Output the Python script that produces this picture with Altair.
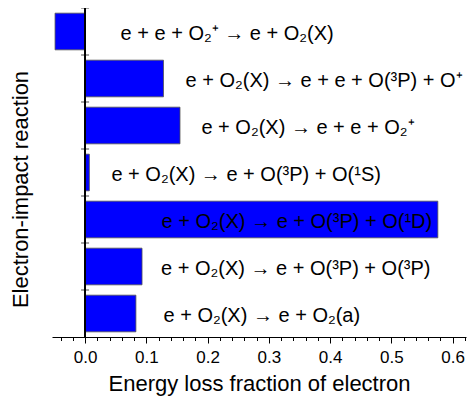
import altair as alt
import pandas as pd

reactions = [
    "e + e + O₂⁺ → e + O₂(X)",
    "e + O₂(X) → e + e + O(³P) + O⁺",
    "e + O₂(X) → e + e + O₂⁺",
    "e + O₂(X) → e + O(³P) + O(¹S)",
    "e + O₂(X) → e + O(³P) + O(¹D)",
    "e + O₂(X) → e + O(³P) + O(³P)",
    "e + O₂(X) → e + O₂(a)",
]
energy_fraction = [-0.049, 0.128, 0.155, 0.007, 0.576, 0.093, 0.083]
label_x = [0.058, 0.164, 0.190, 0.043, 0.125, 0.124, 0.128]
x_tick_values = [round(-0.04 + 0.02 * i, 2) for i in range(34)]

df = pd.DataFrame({"reaction": reactions, "value": energy_fraction, "lx": label_x})

FONT = "Liberation Sans, Arial, sans-serif"
major_test = "abs(datum.value*10 - round(datum.value*10)) < 1e-6"

PLOT_H = 329

x_scale = alt.Scale(domain=[-0.054, 0.622], nice=False, zero=False)
y_scale = alt.Scale(domain=reactions, paddingInner=0.22, paddingOuter=0.11)

x_axis = alt.Axis(
    title="Energy loss fraction of electron",
    values=x_tick_values,
    labelExpr=f"{major_test} ? format(datum.value, '.1f') : ''",
    tickSize={"condition": {"test": major_test, "value": 6}, "value": 3.5},
    grid=False,
    labelOverlap=False,
    labelFlush=False,
    labelFontSize=17,
    labelPadding=6,
    titleFontSize=22,
    titleFontWeight="normal",
    titlePadding=8,
    domainColor="black",
    tickColor="black",
    labelColor="black",
    titleColor="black",
)
y_axis = alt.Axis(
    title="Electron-impact reaction",
    labels=False,
    ticks=False,
    domain=False,
    grid=False,
    titleFontSize=22,
    titleFontWeight="normal",
    titlePadding=20,
    titleY=181,
    titleColor="black",
)

base = alt.Chart(df)
Y = alt.Y("reaction:N", scale=y_scale, axis=y_axis, sort=reactions)

bars = base.mark_bar(color="#0000FF", stroke="#505050", strokeWidth=0.8).encode(
    x=alt.X("value:Q", scale=x_scale, axis=x_axis),
    y=Y,
)

zero_rule = base.mark_rule(color="black", strokeWidth=1).encode(
    x=alt.XDatum(0, type="quantitative", scale=x_scale, axis=x_axis)
)

boundary_ticks = base.mark_tick(
    orient="horizontal", size=8, thickness=1, color="black", yOffset=-PLOT_H / 14
).encode(
    x=alt.XDatum(0, type="quantitative", scale=x_scale, axis=x_axis),
    y=Y,
)

labels = base.mark_text(
    align="left", baseline="middle", fontSize=20, font=FONT, color="black", dy=2
).encode(
    x=alt.X("lx:Q", scale=x_scale, axis=x_axis),
    y=Y,
    text="reaction:N",
)

chart = (
    alt.layer(bars, zero_rule, boundary_ticks, labels)
    .properties(
        width=414,
        height=PLOT_H,
        autosize=alt.AutoSizeParams(type="none"),
        padding={"left": 44, "top": 0, "right": 1, "bottom": 62},
    )
    .configure_view(stroke=None)
    .configure_axis(labelFont=FONT, titleFont=FONT, labelOverlap=False)
)

chart.save("out.html", embed_options={"renderer": "svg", "actions": False})
